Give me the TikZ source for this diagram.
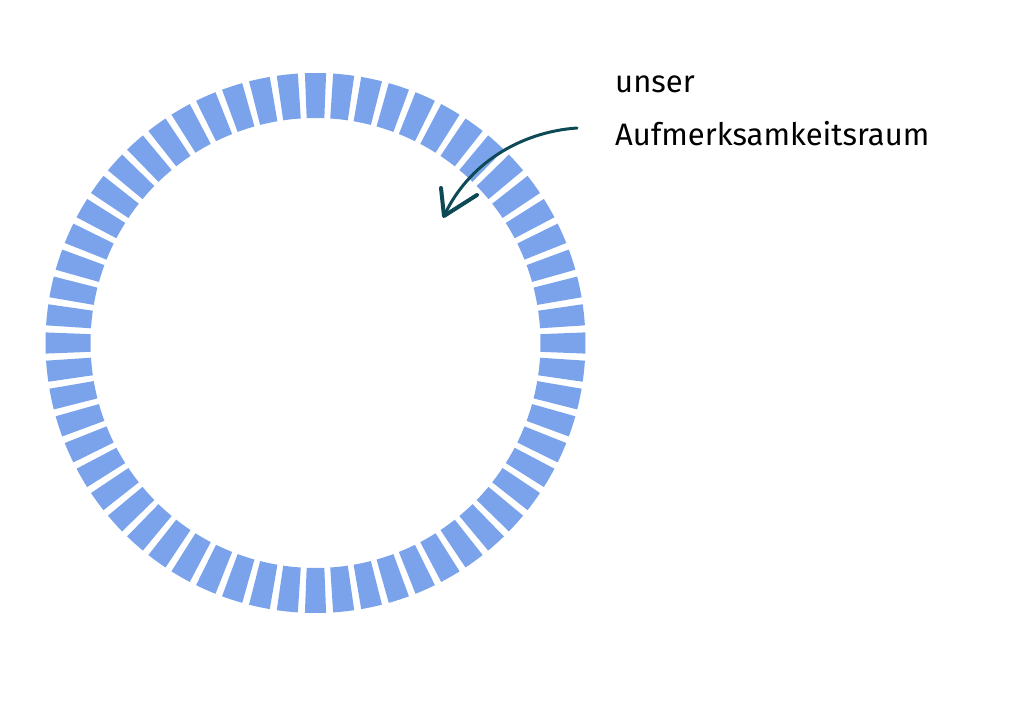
\documentclass[tikz,border=0pt]{standalone}
\usepackage{fontspec}
\setmainfont{Fira Sans}
\usetikzlibrary{calc}
\definecolor{seg}{HTML}{7BA3EC}
\definecolor{arr}{HTML}{0D4A55}
\begin{document}
\begin{tikzpicture}[x=1pt,y=1pt,
  lbl/.style={anchor=base west,inner sep=0pt,font=\fontsize{31}{36}\selectfont}]
\useasboundingbox (0,0) rectangle (1024,724);
\fill[white] (0,0) rectangle (1024,724);
\coordinate (c) at (315.5,381);
\foreach \i in {0,...,59}{
  \pgfmathsetmacro\a{90+6*\i}
  \fill[seg] ($(c)+(\a-2.25:225)$) arc[start angle=\a-2.25,end angle=\a+2.25,radius=225]
     -- ($(c)+(\a+2.25:270)$) arc[start angle=\a+2.25,end angle=\a-2.25,radius=270] -- cycle;
}
\node[lbl] (t1) at (615,631) {unser};
\node[lbl] (t2) at (615,578) {Aufmerksamkeitsraum};
\coordinate (s) at (577,596);
\coordinate (tip) at (444,508);
\draw[arr,line width=3pt,line cap=round] (s) .. controls (520,592) and (468,560) .. (tip);
\draw[arr,line width=4pt,line cap=round,line join=round] (441,536) -- (tip) -- (477,529);
\end{tikzpicture}
\end{document}
